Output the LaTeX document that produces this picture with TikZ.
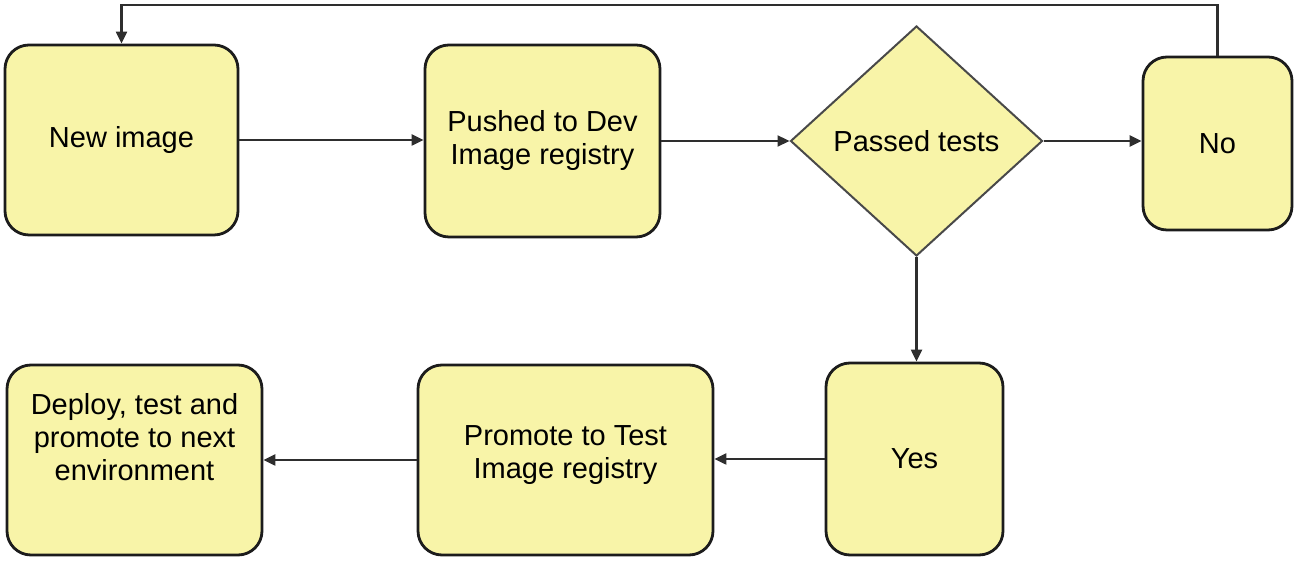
\documentclass[tikz,border=0pt]{standalone}
\usepackage{fontspec}
\setmainfont{Liberation Sans}
\usetikzlibrary{shapes.geometric,arrows.meta}
\definecolor{boxfill}{HTML}{F8F4A8}
\definecolor{boxline}{HTML}{1C1C1C}
\definecolor{arrline}{HTML}{2E2E2E}
\tikzset{
  stepbox/.style={draw=boxline, line width=1.4pt, fill=boxfill, rounded corners=12pt,
    inner sep=0pt, align=center, font=\fontsize{14.5}{16.5}\selectfont},
  decision/.style={diamond, draw=boxline!80, line width=1pt, fill=boxfill, inner sep=0pt,
    align=center, font=\fontsize{14.5}{16.5}\selectfont},
  txt/.style={align=center, inner sep=0pt, font=\fontsize{14.5}{16.5}\selectfont},
  flow/.style={draw=arrline, line width=1.1pt, -{Triangle[length=6pt,width=5.5pt]}}
}
\begin{document}
\begin{tikzpicture}[x=0.5pt,y=-0.5pt]
\useasboundingbox (0,0) rectangle (1300,565);
\node[stepbox, minimum width=116.5pt, minimum height=95pt] (new) at (121.5,140) {New image};
\node[stepbox, minimum width=117.5pt, minimum height=96pt] (push) at (542.5,141) {Pushed to Dev\\Image registry};
\node[decision, minimum width=126pt, minimum height=115pt] (diam) at (916.5,141) {Passed tests};
\node[stepbox, minimum width=74.5pt, minimum height=86.5pt] (no) at (1217.5,143.5) {No};
\node[stepbox, minimum width=88.5pt, minimum height=96pt] (yes) at (914.5,459) {Yes};
\node[stepbox, minimum width=147.5pt, minimum height=95pt] (prom) at (565.5,460) {};
\node[txt] (promtxt) at (565.5,455) {Promote to Test\\Image registry};
\node[stepbox, minimum width=127.5pt, minimum height=95pt] (dep) at (134.5,460) {};
\node[txt] (deptxt) at (134.5,437) {Deploy, test and\\promote to next\\environment};
\coordinate (topright) at (1217.5,5);
\coordinate (topleft) at (121.5,5);
\draw[flow] (new.east) -- (new.east -| push.west);
\draw[flow] (push.east) -- (diam.west);
\draw[flow] (diam.east) -- (diam.east -| no.west);
\draw[flow] (no.north) -- (topright) -- (topleft) -- (new.north);
\draw[flow] (diam.south) -- (diam.south |- yes.north);
\draw[flow] (yes.west) -- (yes.west -| prom.east);
\draw[flow] (prom.west) -- (prom.west -| dep.east);
\end{tikzpicture}
\end{document}
